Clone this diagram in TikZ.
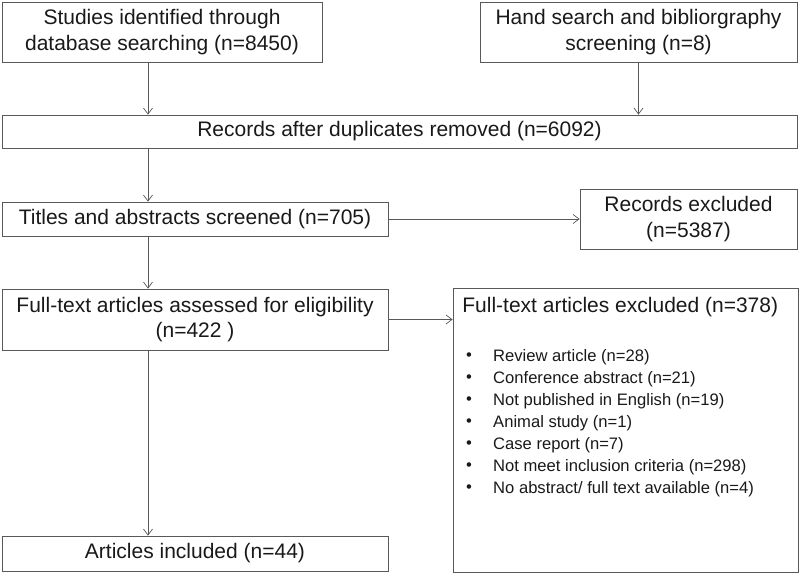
\documentclass[tikz,border=0pt]{standalone}
\usepackage{fontspec}
\setmainfont{Liberation Sans}
\usetikzlibrary{arrows.meta}

\tikzset{
  stage/.style={draw=black!65, line width=0.8pt, align=center, inner sep=0pt,
    font=\fontsize{21}{25.5}\selectfont, text=black!90},
  flow/.style={draw=black!65, line width=0.7pt, -{Straight Barb[length=6pt,width=9pt]}},
  reason/.style={anchor=west, inner sep=0pt, font=\fontsize{16.6}{18}\selectfont, text=black!90}
}

\begin{document}
\begin{tikzpicture}[x=1pt,y=-1pt]
  \useasboundingbox (0,0) rectangle (800,575);
  % boxes
  \node[stage, minimum width=320, minimum height=60] (ident) at (162,32)
    {Studies identified through\\database searching (n=8450)};
  \node[stage, minimum width=317, minimum height=60] (hand) at (638.5,32)
    {Hand search and bibliorgraphy\\screening (n=8)};
  \node[stage, minimum width=795, minimum height=33] (dupl) at (399.5,131.5)
    {Records after duplicates removed (n=6092)};
  \node[stage, minimum width=386, minimum height=34] (screen) at (195,219)
    {Titles and abstracts screened (n=705)};
  \node[stage, minimum width=217, minimum height=60] (recexcl) at (688.5,219)
    {Records excluded\\(n=5387)};
  \node[stage, minimum width=386, minimum height=61] (elig) at (195,319.5)
    {Full-text articles assessed for eligibility\\(n=422 )};
  \node[stage, minimum width=345, minimum height=284] (ftexcl) at (625.5,430) {};
  \node[stage, minimum width=386, minimum height=35] (incl) at (195,553.5)
    {Articles included (n=44)};
  \coordinate (axis) at (148,0);

  % exclusion list
  \node[stage, draw=none, anchor=west] (ftexcltitle) at (462,307)
    {Full-text articles excluded (n=378)};
  \foreach \txt [count=\i] in {Review article (n=28), Conference abstract (n=21),
      Not published in English (n=19), Animal study (n=1), Case report (n=7),
      Not meet inclusion criteria (n=298), No abstract/ full text available (n=4)}
  {
    \node[reason] (bul\i) at (466,{335+22*\i}) {\textbullet};
    \node[reason] (item\i) at (493,{335+22*\i}) {\txt};
  }

  % connectors
  \draw[flow] (ident.south -| axis) -- (dupl.north -| axis);
  \draw[flow] (hand.south) -- (hand.south |- dupl.north);
  \draw[flow] (dupl.south -| axis) -- (screen.north -| axis);
  \draw[flow] (screen.east) -- (recexcl.west);
  \draw[flow] (screen.south -| axis) -- (elig.north -| axis);
  \draw[flow] (elig.east) -- (elig.east -| ftexcl.west);
  \draw[flow] (elig.south -| axis) -- (incl.north -| axis);
\end{tikzpicture}
\end{document}
